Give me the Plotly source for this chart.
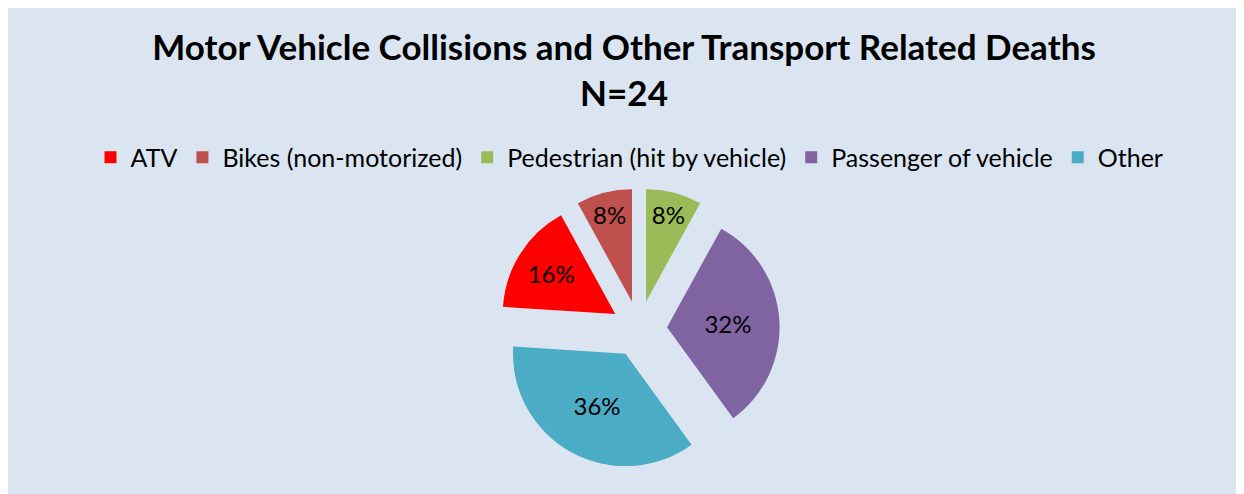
import plotly.graph_objects as go

# ---- data ----
categories = ["ATV", "Bikes (non-motorized)", "Pedestrian (hit by vehicle)",
              "Passenger of vehicle", "Other"]
percent_values = [16, 8, 8, 32, 36]
slice_colors = ["#FF0000", "#C0504D", "#9BBB59", "#8064A2", "#4BACC6"]
title_lines = ["Motor Vehicle Collisions and Other Transport Related Deaths", "N=24"]

W, H = 1244, 494
OFF = 8  # page body margin offset
BG = "#DBE5F1"
FONT = "Lato"

# Pedestrian slice starts at 12 o'clock, slices go clockwise
total = sum(percent_values)
rotation = 360 * (1 - sum(percent_values[:2]) / total)

# pie geometry (screen pixels)
cx, cy, half = 639 - OFF, 329 - OFF, 140.6

fig = go.Figure(go.Pie(
    labels=categories,
    values=percent_values,
    sort=False,
    direction="clockwise",
    rotation=rotation,
    pull=[0.25] * len(categories),
    marker=dict(colors=slice_colors, line=dict(width=0)),
    textinfo="percent",
    texttemplate="%{percent:.0%}",
    textposition="inside",
    insidetextorientation="horizontal",
    textfont=dict(family=FONT, size=24, color="black"),
    domain=dict(x=[(cx - half) / W, (cx + half) / W],
                y=[(H - (cy + half)) / H, (H - (cy - half)) / H]),
    hoverinfo="label+percent",
))

fig.update_layout(
    width=W, height=H,
    margin=dict(l=0, r=0, t=0, b=0),
    paper_bgcolor=BG,
    plot_bgcolor=BG,
    font=dict(family=FONT, color="black"),
    title=dict(
        text="<b>" + title_lines[0] + "</b><br><b>" + title_lines[1] + "</b>",
        x=(624 - OFF) / W, xanchor="center",
        y=1 - 52 / H, yanchor="top", yref="container",
        font=dict(family=FONT, size=35, color="black"),
    ),
    legend=dict(
        orientation="h",
        x=(629.5 - OFF) / W, xanchor="center",
        y=(H - (157.5 - OFF)) / H, yanchor="middle",
        font=dict(family=FONT, size=25, color="black"),
        bgcolor="rgba(0,0,0,0)",
        traceorder="normal",
    ),
)

fig.write_html("out.html")
